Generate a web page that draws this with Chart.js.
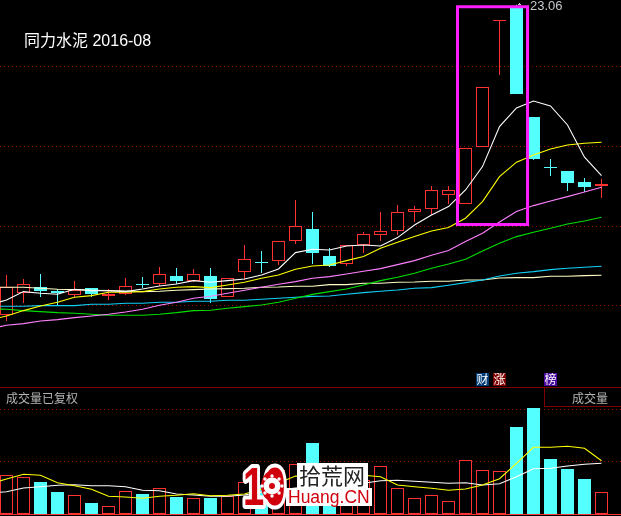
<!DOCTYPE html>
<html><head><meta charset="utf-8">
<style>html,body{margin:0;padding:0;background:#000;overflow:hidden}canvas{display:block}</style>
<script src="https://cdn.jsdelivr.net/npm/chart.js@4"></script>
</head><body><canvas id="c" width="621" height="516"></canvas>
<script>
const opens =[7.55,8.65,8.95,8.75,8.55,8.90,8.50,8.60,9.10,9.10,9.50,9.25,9.50,8.45,9.70,10.20,10.25,11.25,11.85,10.50,10.10,11.05,11.55,11.75,12.70,12.85,13.55,13.10,15.95,22.25,22.90,17.45,14.95,14.75,14.20,14.00];
const closes=[8.95,9.10,8.75,8.65,8.80,8.60,8.60,9.00,9.05,9.60,9.25,9.60,8.35,9.40,10.35,10.15,11.25,12.00,10.65,10.00,11.05,11.60,11.75,12.70,12.85,13.80,13.80,15.90,18.95,22.30,18.60,15.35,14.90,14.15,13.95,14.10];
const highs =[9.55,9.35,9.60,8.85,9.25,8.90,8.85,9.40,9.45,9.95,9.90,9.85,9.90,9.40,11.05,10.75,11.25,13.30,12.70,10.90,11.05,11.70,12.70,13.05,13.00,14.00,14.00,15.90,18.95,22.30,23.06,17.45,15.35,14.75,14.40,14.35];
const lows  =[7.25,8.15,8.45,8.05,8.45,8.45,8.30,8.55,8.90,9.00,9.10,9.20,8.15,8.45,9.30,9.65,10.05,11.10,10.10,9.95,10.00,10.65,11.25,11.55,12.20,12.55,13.10,13.10,15.95,19.55,18.60,15.30,14.50,13.75,13.70,13.40];
const volumes=[19.5,18.5,16,11,9.5,5.5,4,11.5,10,13,8.5,8,8,9,16,14.5,22,25,35.5,12,17,17,24,13,8,9.5,6.5,27,22,21.5,43.5,53,27.5,22.5,17.5,11];
// Moving averages: the first value belongs to the session before the window (off the left edge)
const ma5  =[8.05,8.30,8.72,8.64,8.59,8.84,8.77,8.77,8.72,8.85,9.00,9.10,9.27,9.19,9.27,9.35,9.55,9.85,10.67,10.84,10.80,11.00,11.05,11.00,11.42,12.05,12.55,12.97,13.80,14.97,16.97,17.90,18.25,18.00,17.05,15.44,14.52];
const ma10 =[7.30,7.50,7.77,8.00,8.19,8.44,8.52,8.69,8.69,8.72,8.85,8.94,8.97,8.92,9.05,9.19,9.39,9.55,9.84,10.00,10.05,10.27,10.47,10.89,11.19,11.47,11.75,11.92,12.39,13.22,14.47,15.19,15.55,15.85,16.05,16.14,16.19];
const ma20 =[6.85,7.04,7.12,7.25,7.32,7.42,7.50,7.59,7.70,7.84,8.04,8.19,8.39,8.49,8.64,8.79,8.94,9.09,9.22,9.39,9.47,9.60,9.74,9.87,10.07,10.27,10.54,10.77,11.22,11.64,12.20,12.72,13.02,13.25,13.47,13.70,13.94];
const ma30 =[7.85,7.84,7.77,7.72,7.67,7.64,7.59,7.54,7.54,7.54,7.59,7.67,7.77,7.79,7.89,7.97,8.05,8.19,8.39,8.58,8.72,8.85,9.05,9.27,9.44,9.64,9.89,10.10,10.34,10.75,11.14,11.47,11.69,11.89,12.10,12.25,12.44];
const ma60 =[7.99,7.99,7.99,8.02,8.02,8.02,8.09,8.09,8.14,8.14,8.19,8.19,8.24,8.24,8.29,8.29,8.34,8.39,8.44,8.48,8.50,8.59,8.67,8.74,8.80,8.89,8.92,9.04,9.17,9.30,9.50,9.64,9.72,9.82,9.89,9.94,9.99];
const ma120=[8.94,8.94,8.94,8.89,8.84,8.82,8.79,8.77,8.75,8.72,8.74,8.79,8.82,8.85,8.87,8.89,8.94,8.95,8.99,8.99,9.07,9.07,9.14,9.14,9.19,9.20,9.24,9.24,9.30,9.30,9.40,9.42,9.42,9.49,9.49,9.52,9.54];
const volMaA=[15,17.5,19.85,19.35,15.65,14.15,12.35,8.85,8.5,7.85,8.85,9.35,10.15,9.15,9.35,10,12.5,15.5,19,18.5,18,19,19.35,18.65,14.5,13.65,12.85,11.85,12.5,14.5,17.65,25.35,33.35,33.35,33.85,32.85,26.65];
const volMaB=[10.5,11.15,13,13.65,14.35,14.65,14.15,14.15,13.65,11.85,11.65,10,9.5,8.85,8.85,9.5,11,12,13,13.5,14,14.5,15.35,16.65,16.85,16.35,15.85,15.35,15.65,14.5,15.15,18.65,22.65,22.85,24,24.85,25.35];
const priceTicks=[20,16,12,8];
const volumeTicks=[52.5,26.5];
const highlightSessions=[26.53,30.65];
const highlightPrices=[22.96,12.07];
const title='同力水泥 2016-08';
const peakLabel='23.06';
const panelName='成交量已复权';
const panelTab='成交量';
const badges=[['财','#003c78',476],['涨','#800000',493],['榜','#4a0a9e',544]];

const RED='#ff3232',CYAN='#54ffff';
const up=i=>closes[i]>=opens[i];
const candleColor=c=>up(c.dataIndex)?RED:CYAN;
const bodyFill=c=>up(c.dataIndex)?'#000':CYAN;
const maSet=(arr,color,yAxisID,order)=>({type:'line',data:arr.map((v,k)=>({x:k-1,y:v})),borderColor:color,borderWidth:1.1,pointRadius:0,tension:0,yAxisID,order});
const barBase={type:'bar',grouped:false,borderSkipped:false,inflateAmount:0};
const FONT='"Liberation Sans","Noto Sans CJK SC",sans-serif';

const decorate={id:'decorate',
 afterDatasetsDraw(ch){
  const g=ch.ctx; g.save();
  g.textBaseline='alphabetic'; g.textAlign='left';
  g.fillStyle='#fff'; g.font='16px '+FONT; g.fillText(title,24,46);
  g.fillStyle='#c4c8cc'; g.font='13px '+FONT; g.fillText(peakLabel,530,10);
  g.fillRect(518,4,3,1); g.fillRect(519,3,1,1);
  g.fillStyle='#800000';
  g.fillRect(0,387,621,1); g.fillRect(544,387,1,20); g.fillRect(544,406,77,1);
  g.fillStyle=RED; g.fillRect(0,514,621,1);
  g.fillStyle='#b4b4b4'; g.font='12px '+FONT;
  g.fillText(panelName,6,403); g.fillText(panelTab,572,403);
  badges.forEach(([t,c,x])=>{g.fillStyle=c;g.fillRect(x,373,13,13);g.fillStyle='#fff';g.font='12px '+FONT;g.fillText(t,x+.5,384);});
  // watermark
  const halo=(fn)=>{g.lineJoin='round';g.strokeStyle='#fff';fn();};
  g.fillStyle='#fff'; g.fillRect(297,463,71,27); g.fillRect(286,488,86,18);
  g.font='22px '+FONT;
  g.fillStyle='#222'; g.fillText('拾荒网',299,484);
  g.font='17.5px '+FONT;
  g.fillStyle='#d0000c'; g.fillText('Huang.CN',288,503);
  g.save(); g.translate(243,505); g.scale(.72,1);
  g.font='bold 53px '+FONT; g.lineWidth=8; halo(()=>g.strokeText('10',0,0));
  g.fillStyle='#d0000c'; g.fillText('10',0,0); g.restore();
  const cx=272,cy=486;
  g.fillStyle='#d0000c'; g.beginPath(); g.ellipse(cx,cy,11,15,0,0,7); g.fill();
  g.fillStyle='#fff'; g.beginPath(); g.arc(cx,cy,8.5,0,7); g.fill();
  for(let a=0;a<8;a++){const t=a*Math.PI/4;g.beginPath();g.arc(cx+10*Math.cos(t),cy+10*Math.sin(t),1.7,0,7);g.fill();}
  g.fillStyle='#d0000c'; g.beginPath(); g.arc(cx,cy,3,0,7); g.fill();
  g.restore();
 }};

const gridAxis=(min,max,ticks)=>({type:'linear',display:true,min,max,position:'left',
  afterBuildTicks:s=>{s.ticks=ticks.map(v=>({value:v}));},
  afterFit:s=>{s.width=0;},
  ticks:{display:false},border:{display:false,dash:[1,3]},
  grid:{color:'#a00000',lineWidth:1,drawTicks:false}});

new Chart(document.getElementById('c'),{
 data:{datasets:[
  {type:'line',data:[[0,0],[1,0],[1,1],[0,1],[0,0],[1,0]].map(([a,b])=>({x:highlightSessions[a],y:highlightPrices[b]})),borderColor:'#ff1eff',borderWidth:3,pointRadius:0,tension:0,borderJoinStyle:'miter',yAxisID:'y',order:0},
  maSet(ma5,'#ffffff','y',1),maSet(ma10,'#ffff00','y',2),maSet(ma20,'#ff80ff','y',3),
  maSet(ma30,'#00e000','y',4),maSet(ma60,'#10d0f8','y',5),maSet(ma120,'#ffffc8','y',6),
  maSet(volMaA,'#ffff00','v',1),maSet(volMaB,'#ffffff','v',1),
  {...barBase,data:opens.map((o,i)=>({x:i,y:[o,closes[i]]})),barThickness:13,minBarLength:1,backgroundColor:bodyFill,borderColor:candleColor,borderWidth:1,yAxisID:'y',order:10},
  {...barBase,data:highs.map((h,i)=>({x:i,y:[lows[i],h]})),barThickness:1,backgroundColor:candleColor,borderWidth:0,yAxisID:'y',order:11},
  {...barBase,data:volumes.map((v,i)=>({x:i,y:v})),barThickness:13,backgroundColor:bodyFill,borderColor:candleColor,borderWidth:1,yAxisID:'v',order:12}
 ]},
 options:{responsive:false,devicePixelRatio:1,animation:false,
  layout:{padding:0},
  plugins:{legend:{display:false},tooltip:{enabled:false}},
  scales:{
   x:{type:'linear',display:false,offset:false,min:-6.5/17,max:614.5/17},
   y:gridAxis(-2.5,23.3,priceTicks),
   v:gridAxis(-1,257,volumeTicks)
  }},
 plugins:[decorate,{id:'bg',beforeDraw(ch){ch.ctx.fillStyle='#000';ch.ctx.fillRect(0,0,621,516);}}]
});
</script></body></html>
